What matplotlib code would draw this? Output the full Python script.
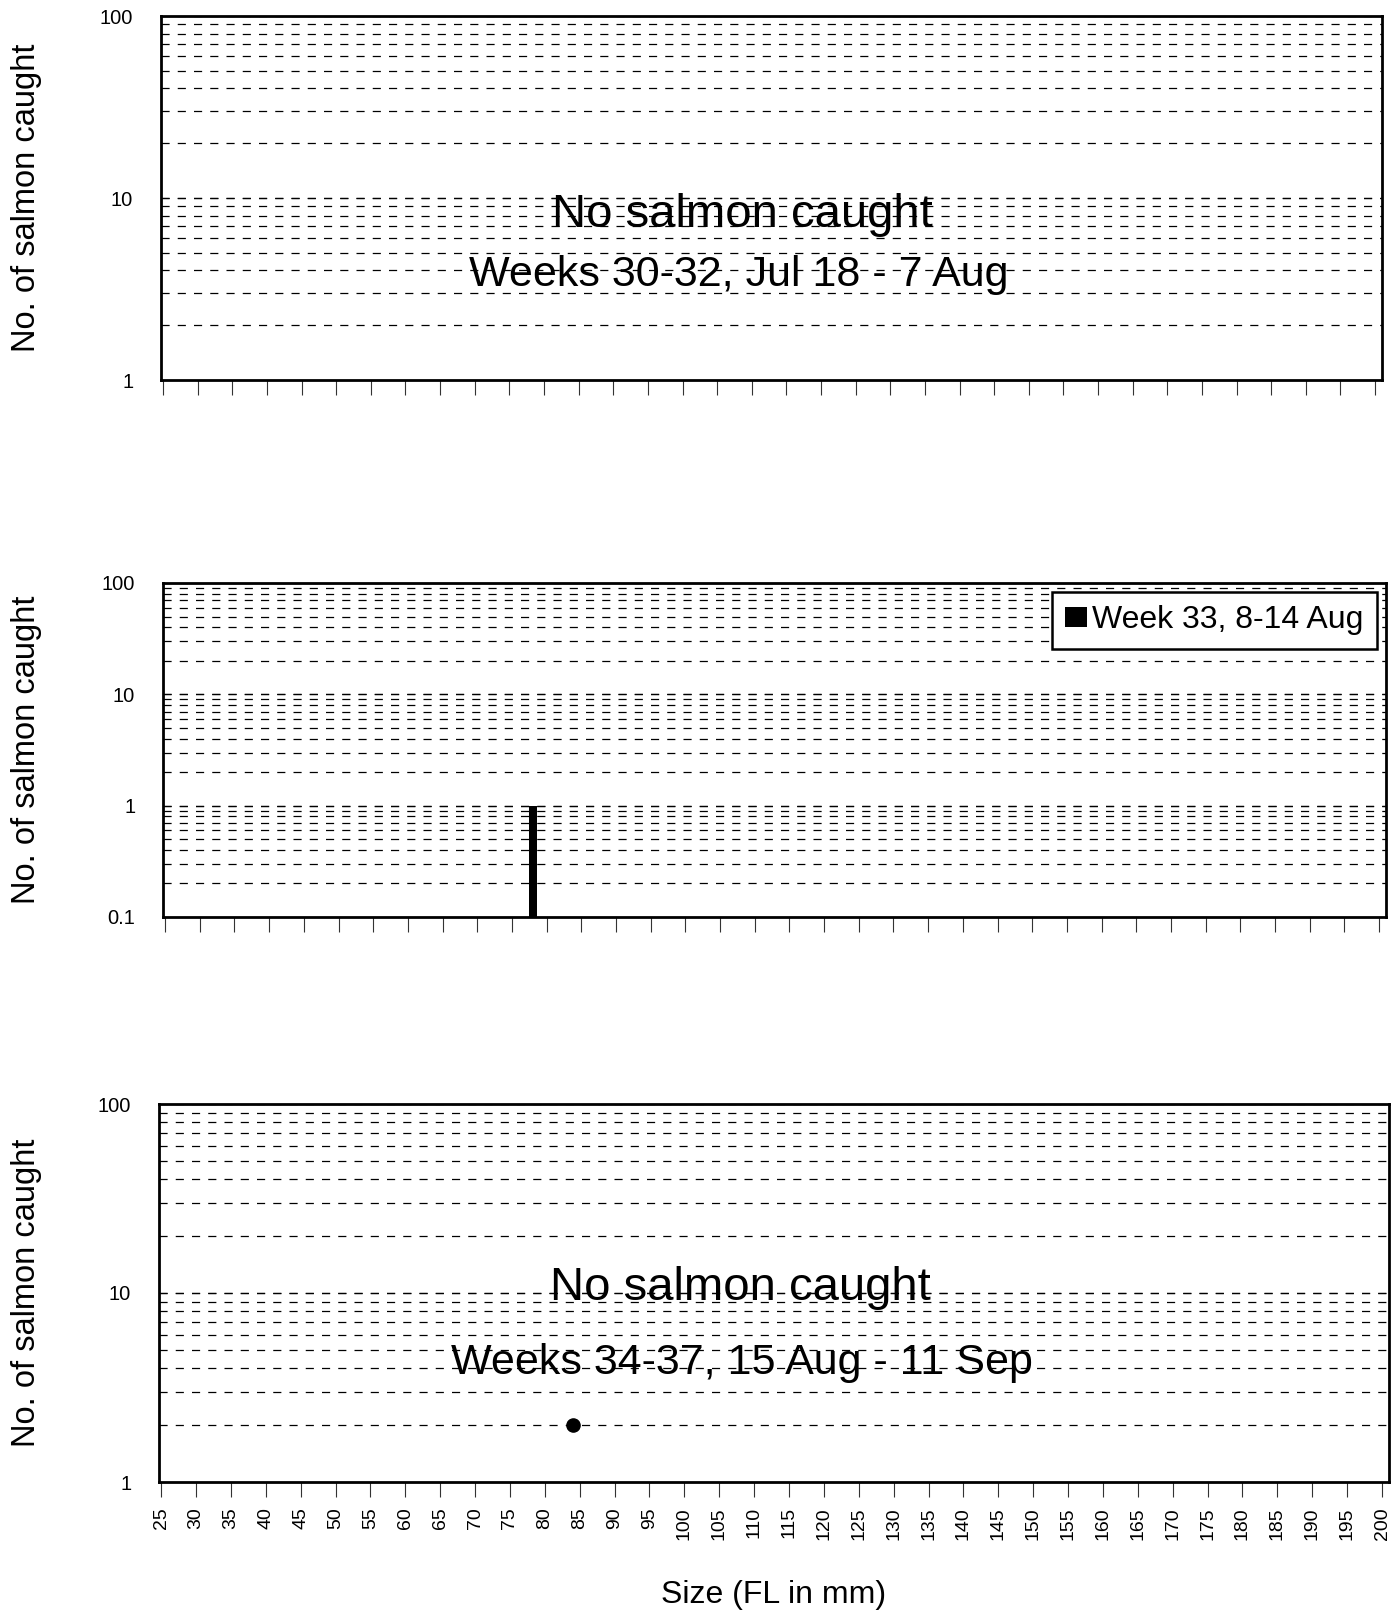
import matplotlib
matplotlib.use("Agg")
import matplotlib.pyplot as plt
import numpy as np

plt.rcParams['font.family'] = ['Liberation Sans', 'DejaVu Sans']

# size classes (FL in mm)
sizes = list(range(25, 205, 5))

# week 33 catch
wk33_size = [78]
wk33_count = [1]

# stray mark in the last panel
dot_size = [84]
dot_count = [2]

top_text = ["No salmon caught", "Weeks 30-32, Jul 18 - 7 Aug"]
bottom_text = ["No salmon caught", "Weeks 34-37, 15 Aug - 11 Sep"]
legend_label = "Week 33, 8-14 Aug"

W, H = 1398, 1611
fig = plt.figure(figsize=(W / 100, H / 100), dpi=100)


def make_ax(left, right, top, bottom):
    return fig.add_axes([left / W, (H - bottom) / H, (right - left) / W, (bottom - top) / H])


def style(ax, ymin, show_xlabels):
    ax.set_yscale('log')
    ax.set_ylim(ymin, 100)
    ax.set_xlim(24.7, 201)
    # dashed grid at every log step
    decades = [d for d in [0.1, 1, 10] if d >= ymin]
    for d in decades:
        for m in range(1, 11):
            v = d * m
            if v <= ymin or v > 100:
                continue
            ax.axhline(v, color='black', lw=0.9, ls=(0, (6.5, 6.5)), zorder=1)
    ax.set_xticks(sizes)
    if show_xlabels:
        ax.set_xticklabels([str(s) for s in sizes], rotation=90, fontsize=14)
    else:
        ax.set_xticklabels([])
    ax.tick_params(axis='x', length=11, width=0.8, pad=7, color='#333333')
    ax.minorticks_off()
    yt = [t for t in [0.1, 1, 10, 100] if t >= ymin]
    ax.set_yticks(yt)
    ax.set_yticklabels([('%g' % t) for t in yt], fontsize=14.5)
    ax.tick_params(axis='y', length=0, pad=20)
    for sp in ax.spines.values():
        sp.set_linewidth(2)
        sp.set_zorder(5)


# top panel
ax1 = make_ax(161, 1382, 16, 380)
style(ax1, 1, False)
ax1.text(0.476, 0.452, top_text[0], transform=ax1.transAxes, ha='center', va='center', fontsize=34)
ax1.text(0.473, 0.288, top_text[1], transform=ax1.transAxes, ha='center', va='center', fontsize=31)

# middle panel
ax2 = make_ax(163, 1386, 583, 917)
style(ax2, 0.1, False)
ax2.bar(wk33_size, wk33_count, width=1.1, color='black', label=legend_label, zorder=3)
ax2.set_ylim(0.1, 100)
leg = ax2.legend(loc='upper right', fontsize=23, frameon=True, fancybox=False,
                 handlelength=0.7, handleheight=0.6, handletextpad=0.15,
                 borderpad=0.42, borderaxespad=0.28)
leg.get_frame().set_edgecolor('black')
leg.get_frame().set_linewidth(1.8)
leg.get_frame().set_alpha(1)

# bottom panel
ax3 = make_ax(159, 1389, 1104, 1482)
style(ax3, 1, True)
ax3.scatter(dot_size, dot_count, s=90, color='black', zorder=4)
ax3.text(0.473, 0.512, bottom_text[0], transform=ax3.transAxes, ha='center', va='center', fontsize=34)
ax3.text(0.474, 0.316, bottom_text[1], transform=ax3.transAxes, ha='center', va='center', fontsize=31)

for ax in (ax1, ax2, ax3):
    pos = ax.get_position()
    fig.text(27 / W, pos.y0 + pos.height / 2, "No. of salmon caught", rotation=90,
             ha='center', va='center', fontsize=23.5)

fig.text(0.553, 1 - 1595 / H, "Size (FL in mm)", ha='center', va='center', fontsize=23)

fig.savefig("out.png", dpi=100)
